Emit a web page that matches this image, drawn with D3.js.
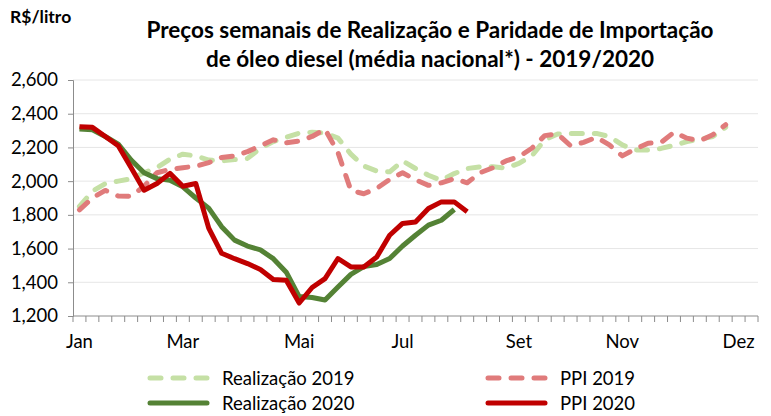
<!DOCTYPE html>
<html>
<head>
<meta charset="utf-8">
<script src="https://cdn.jsdelivr.net/npm/d3@7"></script>
<style>
  body { margin: 0; background: #fff; }
  svg text { font-family: Lato, "Open Sans", sans-serif; fill: #000; }
</style>
</head>
<body>
<div id="chart"></div>
<script>
// semanas (índice 0..52) e rótulos de mês no eixo X
const weeks = d3.range(53);
const monthLabels = ["Jan", "Mar", "Mai", "Jul", "Set", "Nov", "Dez"];
const monthWeeks = [0, 8, 17, 25, 34, 42, 51];
const yTicks = [1200, 1400, 1600, 1800, 2000, 2200, 2400, 2600];

// séries (R$/litro x 1000)
const real2019 = [1850, 1940, 1985, 2000, 2015, 2050, 2080, 2130, 2160, 2150, 2125, 2120, 2128,
  2135, 2195, 2235, 2260, 2285, 2290, 2285, 2255, 2160, 2090, 2060, 2055, 2120, 2075, 2035,
  2005, 2045, 2075, 2085, 2085, 2078, 2105, 2150, 2245, 2280, 2283, 2283, 2283, 2265, 2215,
  2185, 2184, 2194, 2212, 2235, 2248, 2265, 2320];
const ppi2019 = [1830, 1900, 1945, 1912, 1910, 1970, 2050, 2070, 2080, 2088, 2110, 2140, 2150,
  2175, 2210, 2245, 2228, 2238, 2265, 2308, 2170, 1945, 1925, 1957, 2010, 2050, 2008, 1975,
  1990, 2015, 1990, 2050, 2080, 2120, 2145, 2195, 2270, 2280, 2210, 2230, 2260, 2215, 2150,
  2190, 2225, 2230, 2290, 2255, 2240, 2275, 2335];
const real2020 = [2310, 2305, 2265, 2220, 2125, 2050, 2015, 2005, 1966, 1900, 1840, 1730, 1650,
  1615, 1592, 1540, 1460, 1315, 1310, 1295, 1372, 1447, 1493, 1505, 1541, 1615, 1679, 1739,
  1768, 1832];
const ppi2020 = [2323, 2319, 2265, 2210, 2080, 1946, 1986, 2046, 1970, 1986, 1721, 1572, 1540,
  1511, 1476, 1416, 1412, 1277, 1369, 1422, 1541, 1491, 1491, 1550, 1679, 1749, 1758, 1838,
  1877, 1877, 1818];

const series = [
  { name: "Realização 2019", values: real2019, color: "#c5e0a5", dash: "11,12" },
  { name: "PPI 2019", values: ppi2019, color: "#e07b7b", dash: "11,12" },
  { name: "Realização 2020", values: real2020, color: "#548235", dash: null },
  { name: "PPI 2020", values: ppi2020, color: "#c00000", dash: null }
];

const width = 771, height = 416;
const margin = { top: 80, right: 13, bottom: 100, left: 73 };

const svg = d3.select("#chart").append("svg")
  .attr("width", width)
  .attr("height", height);

const x = d3.scaleBand()
  .domain(weeks)
  .range([margin.left, width - margin.right])
  .padding(0);

const y = d3.scaleLinear()
  .domain([1200, 2600])
  .range([height - margin.bottom, margin.top]);

const cx = i => x(i) + x.bandwidth() / 2;

// linhas de grade
svg.append("g")
  .selectAll("line")
  .data(yTicks.slice(1))
  .join("line")
  .attr("x1", margin.left)
  .attr("x2", width - margin.right)
  .attr("y1", d => y(d))
  .attr("y2", d => y(d))
  .attr("stroke", "#e6e6e6")
  .attr("stroke-width", 1);

// eixo Y
const yAxis = svg.append("g")
  .attr("transform", `translate(${margin.left},0)`)
  .call(d3.axisLeft(y).tickValues(yTicks).tickFormat(d3.format(",")).tickSize(5).tickPadding(10));
yAxis.select(".domain").attr("stroke", "#8c8c8c");
yAxis.selectAll(".tick line").attr("stroke", "#8c8c8c");
yAxis.selectAll("text").style("font-size", "18.5px");

// eixo X (categorias semanais)
const xg = svg.append("g");
xg.append("line")
  .attr("x1", margin.left).attr("x2", width - margin.right)
  .attr("y1", y(1200)).attr("y2", y(1200))
  .attr("stroke", "#8c8c8c");
xg.selectAll("line.tick")
  .data(weeks.concat([weeks.length]))
  .join("line")
  .attr("class", "tick")
  .attr("x1", d => d < weeks.length ? x(d) : width - margin.right)
  .attr("x2", d => d < weeks.length ? x(d) : width - margin.right)
  .attr("y1", y(1200))
  .attr("y2", y(1200) + 6)
  .attr("stroke", "#8c8c8c");
xg.selectAll("text")
  .data(monthLabels)
  .join("text")
  .attr("x", (d, i) => cx(monthWeeks[i]))
  .attr("y", y(1200) + 32)
  .attr("text-anchor", "middle")
  .style("font-size", "18.5px")
  .text(d => d);

// séries
const line = d3.line()
  .x((d, i) => cx(i))
  .y(d => y(d));

svg.append("g")
  .selectAll("path")
  .data(series)
  .join("path")
  .attr("d", d => line(d.values))
  .attr("fill", "none")
  .attr("stroke", d => d.color)
  .attr("stroke-width", 5)
  .attr("stroke-linecap", d => d.dash ? "round" : "butt")
  .attr("stroke-linejoin", "round")
  .attr("stroke-dasharray", d => d.dash);

// legenda
const legendPos = [[147, 378], [485, 378], [147, 403], [485, 403]];
const legend = svg.append("g")
  .selectAll("g")
  .data(series)
  .join("g")
  .attr("transform", (d, i) => `translate(${legendPos[i][0]},${legendPos[i][1]})`);
legend.append("line")
  .attr("x1", 3).attr("x2", 60)
  .attr("stroke", d => d.color)
  .attr("stroke-width", 5)
  .attr("stroke-linecap", "round")
  .attr("stroke-dasharray", d => d.dash);
legend.append("text")
  .attr("x", 75)
  .attr("y", 7)
  .style("font-size", "18.5px")
  .text(d => d.name);

// títulos
svg.append("text")
  .attr("x", 10).attr("y", 23)
  .style("font-size", "17.5px")
  .style("font-weight", "bold")
  .text("R$/litro");

svg.append("text")
  .attr("x", 430).attr("y", 38)
  .attr("text-anchor", "middle")
  .style("font-size", "22.5px")
  .style("font-weight", "bold")
  .text("Preços semanais de Realização e Paridade de Importação");
svg.append("text")
  .attr("x", 430).attr("y", 67)
  .attr("text-anchor", "middle")
  .style("font-size", "22.5px")
  .style("font-weight", "bold")
  .text("de óleo diesel (média nacional*) - 2019/2020");
</script>
</body>
</html>
